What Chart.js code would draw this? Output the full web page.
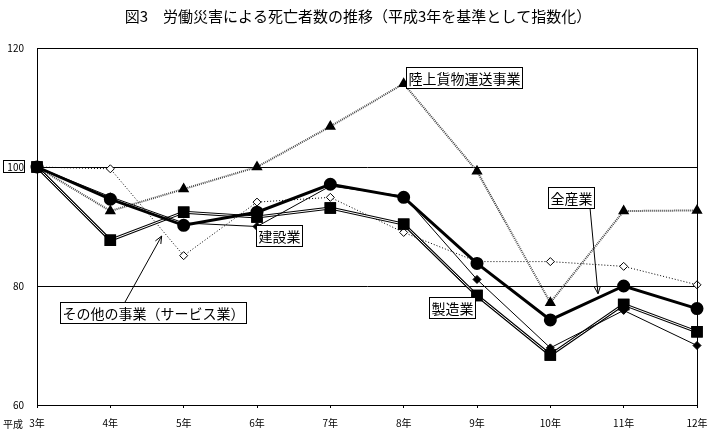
<!DOCTYPE html>
<html>
<head>
<meta charset="utf-8">
<script src="https://cdn.jsdelivr.net/npm/chart.js@4.4.1/dist/chart.umd.min.js"></script>
<style>
  html, body { margin: 0; padding: 0; background: #fff; }
  #wrap { width: 719px; height: 432px; position: relative; }
</style>
</head>
<body>
<div id="wrap"><canvas id="graficoFatal"></canvas></div>
<script>
const FONT = '"Noto Sans CJK JP", "Noto Sans", sans-serif';

// data
const years = ['3年', '4年', '5年', '6年', '7年', '8年', '9年', '10年', '11年', '12年'];
const zenSangyo   = [100, 94.6, 90.2, 92.4, 97.1, 94.9, 83.8, 74.3, 80.0, 76.2];
const rikujoKamotsu = [100, 92.6, 96.3, 100, 106.8, 114.0, 99.3, 77.2, 92.6, 92.7];
const seizogyo    = [100, 87.7, 92.4, 91.6, 93.1, 90.4, 78.4, 68.4, 76.9, 72.3];
const kensetsugyo = [100, 95.0, 90.6, 90.0, 96.8, 95.1, 81.1, 69.6, 75.9, 70.0];
const sonota      = [100, 99.7, 85.1, 94.1, 94.9, 89.0, 84.1, 84.1, 83.3, 80.2];
const yTicks = [60, 80, 100, 120];

// callout labels: box left (category index), box top (value), optional leader line
const callouts = [
  { text: '陸上貨物運送事業', x: 5.03, y: 116.8 },
  { text: '建設業', x: 2.99, y: 90.25 },
  { text: '製造業', x: 5.35, y: 78.2 },
  { text: '全産業', x: 6.97, y: 96.6, line: [7.54, 93.3, 7.65, 78.7] },
  { text: 'その他の事業（サービス業）', x: 0.31, y: 77.3, line: [1.2, 77.3, 1.70, 88.4] }
];

// box around the plot area + boxed "100"
const frame = {
  id: 'frame',
  afterDraw(chart) {
    const { ctx, chartArea: a, scales } = chart;
    ctx.save();
    ctx.strokeStyle = '#000';
    ctx.lineWidth = 1;
    ctx.strokeRect(a.left + 0.5, a.top + 0.5, a.right - a.left, a.bottom - a.top);
    const y100 = Math.round(scales.y.getPixelForValue(100));
    ctx.strokeRect(3.5, y100 - 6.5, 21, 12);
    ctx.restore();
  }
};

// double line for 製造業
const doubleLine = {
  id: 'doubleLine',
  afterDatasetDraw(chart, args) {
    if (chart.data.datasets[args.index].label !== '製造業') return;
    const meta = args.meta;
    const ctx = chart.ctx;
    ctx.save();
    ctx.strokeStyle = '#fff';
    ctx.lineWidth = 1;
    ctx.beginPath();
    meta.data.forEach((p, i) => i ? ctx.lineTo(p.x, p.y) : ctx.moveTo(p.x, p.y));
    ctx.stroke();
    ctx.restore();
    meta.data.forEach(p => p.draw(ctx, chart.chartArea));
  }
};

const labelsPlugin = {
  id: 'callouts',
  afterDraw(chart) {
    const { ctx, scales } = chart;
    const xs = scales.x, ys = scales.y;
    const fx = v => xs.getPixelForValue(0) + (xs.getPixelForValue(1) - xs.getPixelForValue(0)) * v;
    ctx.save();
    // title
    ctx.fillStyle = '#000';
    ctx.font = '15px ' + FONT;
    ctx.textAlign = 'center';
    ctx.textBaseline = 'middle';
    ctx.fillText('図3　労働災害による死亡者数の推移（平成3年を基準として指数化）', 358, 16);
    // 平成 prefix
    ctx.font = '10px ' + FONT;
    ctx.textAlign = 'left';
    ctx.fillText('平成', 3, 424);

    ctx.font = '14px ' + FONT;
    ctx.lineWidth = 1;
    ctx.strokeStyle = '#000';
    callouts.forEach(c => {
      if (c.line) {
        const x1 = fx(c.line[0]), y1 = ys.getPixelForValue(c.line[1]);
        const x2 = fx(c.line[2]), y2 = ys.getPixelForValue(c.line[3]);
        ctx.beginPath();
        ctx.moveTo(x1, y1);
        ctx.lineTo(x2, y2);
        const ang = Math.atan2(y2 - y1, x2 - x1);
        ctx.moveTo(x2, y2);
        ctx.lineTo(x2 - 8 * Math.cos(ang - 0.4), y2 - 8 * Math.sin(ang - 0.4));
        ctx.moveTo(x2, y2);
        ctx.lineTo(x2 - 8 * Math.cos(ang + 0.4), y2 - 8 * Math.sin(ang + 0.4));
        ctx.stroke();
      }
      const w = ctx.measureText(c.text).width + 4;
      const h = 21;
      const bx = Math.round(fx(c.x)) + 0.5, by = Math.round(ys.getPixelForValue(c.y)) + 0.5;
      ctx.fillStyle = '#fff';
      ctx.fillRect(bx, by, w, h);
      ctx.strokeRect(bx, by, w, h);
      ctx.fillStyle = '#000';
      ctx.textAlign = 'left';
      ctx.fillText(c.text, bx + 2, by + h / 2 + 1);
    });
    ctx.restore();
  }
};

const data = {
  labels: years,
  datasets: [
    {
      label: '全産業', data: zenSangyo,
      borderColor: '#000', borderWidth: 3,
      pointStyle: 'circle', pointRadius: 5, pointBackgroundColor: '#000', pointBorderColor: '#000'
    },
    {
      label: '建設業', data: kensetsugyo,
      borderColor: '#000', borderWidth: 1,
      pointStyle: 'rectRot', pointRadius: 4, pointBackgroundColor: '#000', pointBorderColor: '#000'
    },
    {
      label: '製造業', data: seizogyo,
      borderColor: '#000', borderWidth: 3,
      pointStyle: 'rect', pointRadius: 6, pointBackgroundColor: '#000', pointBorderColor: '#000'
    },
    {
      label: '陸上貨物運送事業', data: rikujoKamotsu,
      borderColor: '#444', borderWidth: 2, borderDash: [1, 1],
      pointStyle: 'triangle', pointRadius: 4.5, pointBackgroundColor: '#000', pointBorderColor: '#000'
    },
    {
      label: 'その他の事業（サービス業）', data: sonota,
      borderColor: '#000', borderWidth: 1, borderDash: [1, 2],
      pointStyle: 'rectRot', pointRadius: 4, pointBackgroundColor: '#fff', pointBorderColor: '#000', pointBorderWidth: 1
    }
  ]
};

const config = {
  type: 'line',
  data,
  plugins: [frame, doubleLine, labelsPlugin],
  options: {
    responsive: false,
    animation: false,
    layout: { padding: { left: 0, right: 22, top: 48, bottom: 0 } },
    plugins: { legend: { display: false }, tooltip: { enabled: false }, title: { display: false } },
    elements: { line: { tension: 0 } },
    scales: {
      x: {
        offset: false,
        grid: { display: true, drawOnChartArea: false, color: '#000', tickLength: 3 },
        border: { color: '#000' },
        ticks: { color: '#000', font: { family: FONT, size: 10 }, maxRotation: 0, autoSkip: false, padding: 9 },
        afterFit(s) { s.height = 27; }
      },
      y: {
        min: 60, max: 120,
        afterBuildTicks(s) { s.ticks = yTicks.map(v => ({ value: v })); },
        grid: { color: '#000', drawTicks: false },
        border: { color: '#000' },
        ticks: { color: '#000', font: { family: FONT, size: 10 }, padding: 13 },
        afterFit(s) { s.width = 37; }
      }
    }
  }
};

const canvas = document.getElementById('graficoFatal');
canvas.width = 719;
canvas.height = 432;
const myChart = new Chart(canvas, config);
</script>
</body>
</html>
